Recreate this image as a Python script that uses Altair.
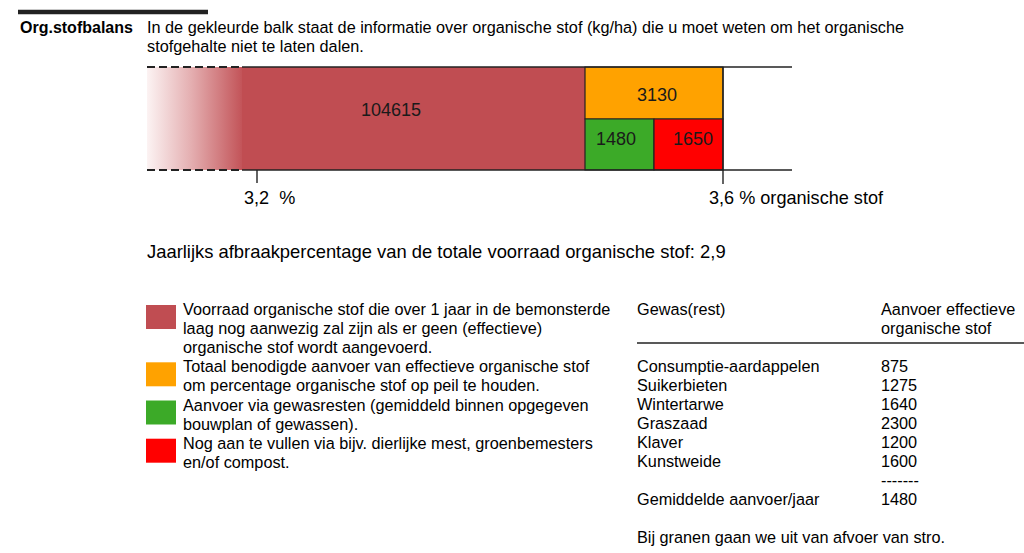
import altair as alt
import pandas as pd

W, H = 1024, 553
FONT = "Liberation Sans"

# ---------------- values ----------------
title = "Org.stofbalans"
intro_lines = [
    "In de gekleurde balk staat de informatie over organische stof (kg/ha) die u moet weten om het organische",
    "stofgehalte niet te laten dalen.",
]
bar_values = [104615, 3130, 1480, 1650]
bar_colors = ["#c04d52", "#ffa200", "#3caa28", "#ff0000"]
om_low = "3,2\u00a0\u00a0%"
om_high = "3,6 % organische stof"
decay_text = "Jaarlijks afbraakpercentage van de totale voorraad organische stof: 2,9"

legend_texts = [
    ["Voorraad organische stof die over 1 jaar in de bemonsterde",
     "laag nog aanwezig zal zijn als er geen (effectieve)",
     "organische stof wordt aangevoerd."],
    ["Totaal benodigde aanvoer van effectieve organische stof",
     "om percentage organische stof op peil te houden."],
    ["Aanvoer via gewasresten (gemiddeld binnen opgegeven",
     "bouwplan of gewassen)."],
    ["Nog aan te vullen via bijv. dierlijke mest, groenbemesters",
     "en/of compost."],
]
table_header_left = ["Gewas(rest)"]
table_header_right = ["Aanvoer effectieve", "organische stof"]
crops = ["Consumptie-aardappelen", "Suikerbieten", "Wintertarwe", "Graszaad", "Klaver", "Kunstweide"]
crop_values = [875, 1275, 1640, 2300, 1200, 1600]
avg_label = "Gemiddelde aanvoer/jaar"
avg_value = 1480
note = "Bij granen gaan we uit van afvoer van stro."

# ---------------- layout (pixel grid) ----------------
bar_top, bar_mid, bar_bot = 67, 119, 170
x_fade, x_solid, x_split, x_green_end, x_end, x_line_end = 147, 242, 585, 654, 723, 792
x_tick_low = 257
line_h = 19.1
FS = 16.25
DY = 1  # text vertical nudge

X = lambda f: alt.X(f"{f}:Q", scale=alt.Scale(domain=[0, W], nice=False, zero=False), axis=None)
Y = lambda f: alt.Y(f"{f}:Q", scale=alt.Scale(domain=[0, H], reverse=True, nice=False, zero=False), axis=None)

def rects(df, **kw):
    return alt.Chart(df).mark_rect(**kw).encode(
        x=X("x"), x2="x2", y=Y("y"), y2="y2",
        color=alt.Color("c:N", scale=None))

def rules(df, **kw):
    return alt.Chart(df).mark_rule(**kw).encode(x=X("x"), x2="x2", y=Y("y"), y2="y2")

def texts(df, **kw):
    base = dict(font=FONT, fontSize=FS, baseline="middle", color="#000", dy=DY)
    base.update(kw)
    return alt.Chart(df).mark_text(**base).encode(x=X("x"), y=Y("y"), text="t:N")

# gradient fade at the left of the stock bar
fade = alt.Chart(pd.DataFrame({"x": [x_fade], "x2": [x_solid + 4], "y": [bar_top], "y2": [bar_bot]})).mark_rect(
    color=alt.LinearGradient(
        gradient="linear",
        stops=[alt.GradientStop(color="#fcf3f3", offset=0),
               alt.GradientStop(color="#e4aeb0", offset=0.45),
               alt.GradientStop(color=bar_colors[0], offset=1)],
        x1=0, x2=1, y1=0, y2=0)
).encode(x=X("x"), x2="x2", y=Y("y"), y2="y2")

stock = rects(pd.DataFrame({"x": [x_solid], "x2": [x_split], "y": [bar_top], "y2": [bar_bot], "c": [bar_colors[0]]}))
boxes = rects(pd.DataFrame({
    "x": [x_split, x_split, x_green_end],
    "x2": [x_end, x_green_end, x_end],
    "y": [bar_top, bar_mid, bar_mid],
    "y2": [bar_mid, bar_bot, bar_bot],
    "c": bar_colors[1:],
}), stroke="#222", strokeWidth=1.2)

solid_lines = rules(pd.DataFrame({
    "x": [x_solid, x_solid, x_end, x_tick_low, 18, 637],
    "x2": [x_line_end, x_line_end, x_end, x_tick_low, 208, 1024],
    "y": [bar_top, bar_bot, bar_top, bar_bot, 12, 343],
    "y2": [bar_top, bar_bot, 184, 183, 12, 343],
    "w": [1.6, 1.6, 1.4, 1.4, 4.5, 1.5],
})).encode(strokeWidth=alt.StrokeWidth("w:Q", scale=None), color=alt.value("#222"))

dashed_lines = rules(pd.DataFrame({
    "x": [x_fade, x_fade], "x2": [x_solid, x_solid],
    "y": [bar_top, bar_bot], "y2": [bar_top, bar_bot],
}), strokeDash=[8, 4], strokeWidth=2, color="#222")

bar_text = texts(pd.DataFrame({
    "x": [391, 657, 616, 693],
    "y": [110, 95, 139, 139],
    "t": [str(v) for v in bar_values],
}), align="center", fontSize=18, color="#1a1a1a")

axis_text = texts(pd.DataFrame({"x": [244, 709], "y": [198, 198], "t": [om_low, om_high]}),
                  align="left", fontSize=18.1)

# left-aligned text
rows = []
rows += [{"x": 147, "y": 27 + 19 * i, "t": s} for i, s in enumerate(intro_lines)]
k = 0
legend_sq = []
for group, col in zip(legend_texts, bar_colors):
    legend_sq.append({"x": 146, "x2": 176, "y": 309 + line_h * k - 4, "y2": 309 + line_h * k + 20, "c": col})
    for s in group:
        rows.append({"x": 183, "y": 309 + line_h * k, "t": s})
        k += 1
rows += [{"x": 637, "y": 309, "t": table_header_left[0]}]
rows += [{"x": 881, "y": 309 + 19 * i, "t": s} for i, s in enumerate(table_header_right)]
for i, (c, v) in enumerate(zip(crops, crop_values)):
    rows.append({"x": 637, "y": 366 + 19 * i, "t": c})
    rows.append({"x": 881, "y": 366 + 19 * i, "t": str(v)})
rows += [{"x": 881, "y": 480, "t": "-------"},
         {"x": 637, "y": 499, "t": avg_label}, {"x": 881, "y": 499, "t": str(avg_value)},
         {"x": 637, "y": 537, "t": note}]
left_text = texts(pd.DataFrame(rows), align="left")
decay = texts(pd.DataFrame({"x": [147], "y": [251], "t": [decay_text]}), align="left", fontSize=18.4)
title_text = texts(pd.DataFrame({"x": [20], "y": [27], "t": [title]}), align="left", fontWeight="bold", fontSize=16)
legend_boxes = rects(pd.DataFrame(legend_sq))

chart = alt.layer(
    fade, stock, boxes, dashed_lines, solid_lines, bar_text, axis_text,
    legend_boxes, left_text, decay, title_text,
).properties(
    width=W, height=H, autosize=alt.AutoSizeParams(type="none"), padding=0, background="white",
).configure_view(strokeWidth=0)

chart.save("out.html", embed_options={"renderer": "svg", "actions": False})
